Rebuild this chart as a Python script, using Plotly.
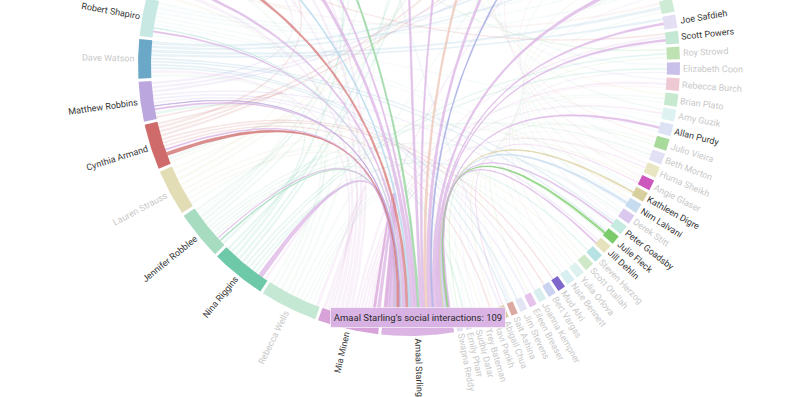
import math
import plotly.graph_objects as go

# ---------------- data ----------------
# nodes, clockwise starting at the focus node (sorted by value, descending)
nodes = [
    "Amaal Starling", "Mia Minen", "Rebecca Wells", "Nina Riggins", "Jennifer Robblee",
    "Lauren Strauss", "Cynthia Armand", "Matthew Robbins", "Dave Watson", "Robert Shapiro",
    "Elizabeth Loder", "Andrew Charles", "Richard Lipton", "Dawn Buse", "Jessica Ailani",
    "Todd Schwedt", "Stephen Silberstein", "Messoud Ashina", "Andrew Hershey", "Juliana VanderPluym",
    "Rashmi Halker", "Deborah Friedman", "Lawrence Newman", "Carrie Dougherty", "Nada Hindiyeh",
    "Jason Rosenberg", "Stewart Tepper", "Alan Rapoport", "Robert Cowan", "Brian Grosberg",
    "Christina Szperka", "Thomas Berk", "Heidi Moawad", "Kathleen Mullin",
    "David Dodick", "Joe Safdieh", "Scott Powers", "Roy Strowd", "Elizabeth Coon",
    "Rebecca Burch", "Brian Plato", "Amy Guzik", "Allan Purdy", "Julio Vieira",
    "Beth Morton", "Huma Sheikh", "Angie Glaser", "Kathleen Digre", "Nim Lalvani",
    "Derek Stitt", "Peter Goadsby", "Julie Fleck", "Jill Dehlin", "Steven Herzog",
    "Scott Otallah", "Yulia Orlova", "Nate Bennett", "Mud Alvi", "Bert Vargas",
    "Joanna Kempner", "Eileen Breaser", "Jim Stevens", "Sait Ashina", "Abigail Chua",
    "Ravi Parikh", "Trey Bateman", "Sudhir Datar", "Emily Pharr", "Swapna Reddy",
]
values = [
    109, 92, 87, 83, 74,
    70, 69, 60, 59, 58,
    58, 56, 54, 52, 50,
    49, 47, 46, 45, 43,
    42, 41, 39, 38, 37,
    35, 33, 32, 30, 28,
    27, 25, 23, 21,
    20, 20, 19, 19, 19,
    19, 19, 18, 18, 18,
    17, 17, 16, 15, 15,
    15, 15, 14, 14, 14,
    14, 13, 13, 12, 12,
    12, 11, 11, 10, 10,
    10, 10, 9, 9, 9,
]
colors = [
    "#dbb4e4", "#d7a3d8", "#c4e8d4", "#6ec9a8", "#a7dcc1",
    "#e3ddb6", "#cf6b6b", "#bba6de", "#6ba8c8", "#c8e8e4",
    "#e8c3c3", "#d77a7a", "#b3d6ee", "#d8b5e8", "#c6e7c6",
    "#8fd39a", "#f0d9b5", "#a9c9e8", "#e6c6dc", "#c2e4df",
    "#d1c9ee", "#e8e0b8", "#b9dfcf", "#ecc5b8", "#c8d8f0",
    "#e0b8d8", "#9fa6e0", "#cfe8b8", "#f0c8c8", "#b8e0e8",
    "#dcc8f0", "#e8dcc0", "#c0e8d0", "#e0d0f0",
    "#cdebd5", "#e5dff4", "#c4e8d4", "#bfe2b3", "#c9c0ea",
    "#eec8d2", "#c6e9d0", "#def2f1", "#dde3f4", "#a8da9b",
    "#e1e0f4", "#e9e7c3", "#cc58bd", "#d8cf9f", "#c8dcef",
    "#dac8ee", "#c5eadf", "#7ccb6b", "#e6e2bd", "#b7e2e4",
    "#cfe9c8", "#ddf1ee", "#d7eff0", "#7e66cc", "#c9d3f0",
    "#d9efef", "#e5c3ea", "#e3e4f4", "#dba9a2", "#d8cda8",
    "#e0d4f0", "#dde3f4", "#e6e6e6", "#e2dcf3", "#e6e0f0",
]

# links: (from, to, interactions)
links = [
    # focus node (sum = 109)
    ("Amaal Starling", "Mia Minen", 5), ("Mia Minen", "Amaal Starling", 4),
    ("Amaal Starling", "Nina Riggins", 7),
    ("Jennifer Robblee", "Amaal Starling", 2), ("Amaal Starling", "Jennifer Robblee", 1),
    ("Cynthia Armand", "Amaal Starling", 5), ("Amaal Starling", "Cynthia Armand", 2),
    ("Amaal Starling", "Matthew Robbins", 2), ("Matthew Robbins", "Amaal Starling", 1),
    ("Amaal Starling", "Robert Shapiro", 2), ("Robert Shapiro", "Amaal Starling", 1),
    ("Amaal Starling", "Joe Safdieh", 3), ("Amaal Starling", "Scott Powers", 3),
    ("Amaal Starling", "Allan Purdy", 3), ("Kathleen Digre", "Amaal Starling", 2),
    ("Nim Lalvani", "Amaal Starling", 3), ("Amaal Starling", "Peter Goadsby", 2),
    ("Julie Fleck", "Amaal Starling", 3), ("Amaal Starling", "Jill Dehlin", 2),
    ("Andrew Charles", "Amaal Starling", 5), ("Todd Schwedt", "Amaal Starling", 4),
    ("Stewart Tepper", "Amaal Starling", 3), ("Amaal Starling", "Elizabeth Loder", 4),
    ("Amaal Starling", "Dawn Buse", 7), ("Amaal Starling", "Jessica Ailani", 4),
    ("Richard Lipton", "Amaal Starling", 3), ("Amaal Starling", "Juliana VanderPluym", 5),
    ("Amaal Starling", "Deborah Friedman", 4), ("Carrie Dougherty", "Amaal Starling", 5),
    ("Amaal Starling", "Jason Rosenberg", 6), ("Amaal Starling", "Heidi Moawad", 6),
    # everyone else
    ("Mia Minen", "Rebecca Wells", 4), ("Mia Minen", "Nina Riggins", 3), ("Mia Minen", "Dave Watson", 3),
    ("Mia Minen", "Elizabeth Loder", 5), ("Mia Minen", "Dawn Buse", 6), ("Mia Minen", "Richard Lipton", 4),
    ("Mia Minen", "Rebecca Burch", 3), ("Mia Minen", "Joanna Kempner", 2), ("Mia Minen", "Huma Sheikh", 2),
    ("Mia Minen", "Jessica Ailani", 4), ("Mia Minen", "Scott Powers", 2), ("Mia Minen", "Amy Guzik", 2),
    ("Mia Minen", "Alan Rapoport", 3),
    ("Rebecca Wells", "Lauren Strauss", 3), ("Rebecca Wells", "Dave Watson", 4),
    ("Rebecca Wells", "Andrew Charles", 5), ("Rebecca Wells", "Todd Schwedt", 4),
    ("Rebecca Wells", "Brian Plato", 2), ("Rebecca Wells", "Julio Vieira", 2),
    ("Rebecca Wells", "Swapna Reddy", 2), ("Rebecca Wells", "Yulia Orlova", 2),
    ("Rebecca Wells", "Juliana VanderPluym", 4), ("Rebecca Wells", "Stewart Tepper", 3),
    ("Nina Riggins", "Jennifer Robblee", 3), ("Nina Riggins", "Matthew Robbins", 3),
    ("Nina Riggins", "Stephen Silberstein", 4), ("Nina Riggins", "Rashmi Halker", 3),
    ("Nina Riggins", "Roy Strowd", 2), ("Nina Riggins", "Steven Herzog", 2),
    ("Nina Riggins", "Emily Pharr", 2), ("Nina Riggins", "Deborah Friedman", 3),
    ("Nina Riggins", "Elizabeth Coon", 2),
    ("Jennifer Robblee", "Cynthia Armand", 3), ("Jennifer Robblee", "Messoud Ashina", 4),
    ("Jennifer Robblee", "Andrew Hershey", 3), ("Jennifer Robblee", "Beth Morton", 2),
    ("Jennifer Robblee", "Nate Bennett", 2), ("Jennifer Robblee", "Sudhir Datar", 2),
    ("Jennifer Robblee", "Lawrence Newman", 3), ("Jennifer Robblee", "Derek Stitt", 2),
    ("Lauren Strauss", "Cynthia Armand", 2), ("Lauren Strauss", "Carrie Dougherty", 4),
    ("Lauren Strauss", "Nada Hindiyeh", 3), ("Lauren Strauss", "Angie Glaser", 2),
    ("Lauren Strauss", "Trey Bateman", 2), ("Lauren Strauss", "Scott Otallah", 2),
    ("Lauren Strauss", "Elizabeth Loder", 3),
    ("Cynthia Armand", "Matthew Robbins", 2), ("Cynthia Armand", "Jason Rosenberg", 3),
    ("Cynthia Armand", "Stewart Tepper", 3), ("Cynthia Armand", "Mud Alvi", 2),
    ("Cynthia Armand", "Ravi Parikh", 2), ("Cynthia Armand", "Dawn Buse", 3),
    ("Cynthia Armand", "Bert Vargas", 2),
    ("Matthew Robbins", "Alan Rapoport", 3), ("Matthew Robbins", "Robert Cowan", 3),
    ("Matthew Robbins", "Eileen Breaser", 2), ("Matthew Robbins", "Abigail Chua", 2),
    ("Matthew Robbins", "Jill Dehlin", 2), ("Matthew Robbins", "Richard Lipton", 3),
    ("Dave Watson", "Brian Grosberg", 4), ("Dave Watson", "Christina Szperka", 3),
    ("Dave Watson", "David Dodick", 4), ("Dave Watson", "Joe Safdieh", 3),
    ("Dave Watson", "Jim Stevens", 2), ("Dave Watson", "Sait Ashina", 2),
    ("Dave Watson", "Peter Goadsby", 2), ("Dave Watson", "Julie Fleck", 2),
    ("Robert Shapiro", "Thomas Berk", 3), ("Robert Shapiro", "Heidi Moawad", 3),
    ("Robert Shapiro", "Kathleen Mullin", 3), ("Robert Shapiro", "Kathleen Digre", 2),
    ("Robert Shapiro", "Nim Lalvani", 2), ("Robert Shapiro", "Allan Purdy", 2),
    ("Robert Shapiro", "Jennifer Robblee", 2),
    ("Elizabeth Loder", "Richard Lipton", 4), ("Elizabeth Loder", "David Dodick", 3),
    ("Andrew Charles", "Todd Schwedt", 3), ("Andrew Charles", "Scott Powers", 2),
    ("Richard Lipton", "Dawn Buse", 5), ("Dawn Buse", "Jessica Ailani", 3),
    ("Jessica Ailani", "Stewart Tepper", 3), ("Todd Schwedt", "Roy Strowd", 2),
    ("Stephen Silberstein", "Alan Rapoport", 4), ("Messoud Ashina", "Sait Ashina", 3),
    ("Andrew Hershey", "Christina Szperka", 3), ("Juliana VanderPluym", "Elizabeth Coon", 2),
    ("Rashmi Halker", "Rebecca Burch", 2), ("Deborah Friedman", "Brian Plato", 2),
    ("Lawrence Newman", "Amy Guzik", 2), ("Carrie Dougherty", "Julio Vieira", 2),
    ("Nada Hindiyeh", "Beth Morton", 2), ("Jason Rosenberg", "Huma Sheikh", 2),
    ("Robert Cowan", "Angie Glaser", 2), ("Brian Grosberg", "Kathleen Digre", 2),
    ("Thomas Berk", "Nim Lalvani", 2), ("Heidi Moawad", "Derek Stitt", 2),
    ("Kathleen Mullin", "Peter Goadsby", 2), ("David Dodick", "Julie Fleck", 2),
    ("Joe Safdieh", "Jill Dehlin", 1), ("Scott Powers", "Steven Herzog", 1),
    ("Roy Strowd", "Scott Otallah", 1), ("Elizabeth Coon", "Yulia Orlova", 1),
    ("Rebecca Burch", "Nate Bennett", 1), ("Brian Plato", "Mud Alvi", 1),
    ("Amy Guzik", "Bert Vargas", 1), ("Allan Purdy", "Joanna Kempner", 1),
    ("Julio Vieira", "Eileen Breaser", 1), ("Beth Morton", "Jim Stevens", 1),
    ("Huma Sheikh", "Sait Ashina", 1), ("Angie Glaser", "Abigail Chua", 1),
    ("Kathleen Digre", "Ravi Parikh", 1), ("Nim Lalvani", "Trey Bateman", 1),
    ("Derek Stitt", "Sudhir Datar", 1), ("Peter Goadsby", "Emily Pharr", 1),
    ("Julie Fleck", "Swapna Reddy", 1),
]

FOCUS = "Amaal Starling"
TOOLTIP_TEMPLATE = "{name}'s social interactions: {value}"

# ---------------- geometry settings ----------------
START_ANGLE = 80.4      # screen degrees, clockwise from +x
GAP = 0.65
R_OUT, R_IN = 271, 258
R_LABEL = 274
FONT = "Roboto"
LABEL_SIZE = 9
DARK, LIGHT = "#363636", "#c9c9c9"
HI_OPACITY, LO_OPACITY = 0.75, 0.13

N = len(nodes)
scale = (360 - N * GAP) / sum(values)
seg = {}
a = START_ANGLE
for name, v in zip(nodes, values):
    seg[name] = (a, a + v * scale)
    a += v * scale + GAP
color_of = dict(zip(nodes, colors))
value_of = dict(zip(nodes, values))


def pt(ang, r):
    t = math.radians(ang)
    return r * math.cos(t), r * math.sin(t)


def arc(a0, a1, r, step=0.4):
    n = max(2, int(abs(a1 - a0) / step) + 2)
    return [pt(a0 + (a1 - a0) * i / (n - 1), r) for i in range(n)]


def bez(p0, p2, n=50):
    out = []
    for i in range(n):
        t = i / (n - 1)
        out.append(((1 - t) ** 2 * p0[0] + t * t * p2[0], (1 - t) ** 2 * p0[1] + t * t * p2[1]))
    return out


def rgba(hexc, op):
    h = hexc.lstrip("#")
    return "rgba(%d,%d,%d,%.3f)" % (int(h[0:2], 16), int(h[2:4], 16), int(h[4:6], 16), op)


# allocate link ends inside each node segment
ends = {n: [] for n in nodes}
for i, (s, t, v) in enumerate(links):
    ends[s].append((i, t, v))
    ends[t].append((i, s, v))
alloc = {}
for name in nodes:
    a0, a1 = seg[name]
    mid = (a0 + a1) / 2
    items = sorted(ends[name], key=lambda it: -(((seg[it[1]][0] + seg[it[1]][1]) / 2 - mid) % 360))
    if not items:
        continue
    total = sum(v for _, _, v in items) * scale
    length = a1 - a0
    if total >= length:
        k, spacing = length / total, 0.0
    else:
        k, spacing = 1.0, (length - total) / len(items)
    cur = a0 + spacing / 2
    for i, other, v in items:
        w = v * scale * k
        alloc[(i, name)] = (cur, cur + w)
        cur += w + spacing

fig = go.Figure()

linked = {FOCUS}
order = []
for i, (s, t, v) in enumerate(links):
    hi = FOCUS in (s, t)
    if hi:
        linked.update([s, t])
    order.append((hi, i))
order.sort()

for hi, i in order:
    s, t, v = links[i]
    s0, s1 = alloc[(i, s)]
    t0, t1 = alloc[(i, t)]
    pts = (arc(s0, s1, R_IN) + bez(pt(s1, R_IN), pt(t0, R_IN)) +
           arc(t0, t1, R_IN) + bez(pt(t1, R_IN), pt(s0, R_IN)))
    op = HI_OPACITY if hi else LO_OPACITY
    fig.add_trace(go.Scatter(
        x=[p[0] for p in pts], y=[p[1] for p in pts], mode="lines",
        fill="toself", fillcolor=rgba(color_of[s], op),
        line=dict(width=0.6, color=rgba(color_of[s], op)),
        hoverinfo="skip", showlegend=False))

# node segments
for name in nodes:
    a0, a1 = seg[name]
    pts = arc(a0, a1, R_OUT) + arc(a1, a0, R_IN)
    fig.add_trace(go.Scatter(
        x=[p[0] for p in pts], y=[p[1] for p in pts], mode="lines",
        fill="toself", fillcolor=color_of[name], line=dict(width=0),
        hoverinfo="skip", showlegend=False))

# labels
EM = {"i": .24, "l": .24, "j": .24, "t": .33, "f": .35, "r": .34, " ": .25, "'": .17,
      "m": .88, "w": .75, "M": .87, "W": .88, "I": .27}


def text_w(s, size):
    w = 0
    for ch in s:
        if ch in EM:
            w += EM[ch]
        elif ch.isupper():
            w += .64
        else:
            w += .54
    return w * size


annotations = []
for name in nodes:
    a0, a1 = seg[name]
    m = ((a0 + a1) / 2 + 180) % 360 - 180
    if abs(m) <= 90:
        ta = m
    else:
        ta = m - 180 if m > 0 else m + 180
    w = text_w(name, LABEL_SIZE)
    x, y = pt(m, R_LABEL + w / 2)
    annotations.append(dict(
        x=x, y=y, xref="x", yref="y", text=name, showarrow=False, textangle=ta,
        xanchor="center", yanchor="middle",
        font=dict(family=FONT, size=LABEL_SIZE, color=DARK if name in linked else LIGHT)))

# tooltip for the focus node
fa0, fa1 = seg[FOCUS]
fm = (fa0 + fa1) / 2
tip_x, tip_y = pt(fm, R_OUT - 3)
box_bottom = tip_y - 6
box_h, box_w = 19, 174
TIP_BG = "rgba(216,178,227,0.97)"
annotations.append(dict(
    x=tip_x, y=box_bottom - box_h / 2, xref="x", yref="y",
    text=TOOLTIP_TEMPLATE.format(name=FOCUS, value=value_of[FOCUS]),
    showarrow=False, width=box_w, height=box_h, align="center", valign="middle",
    bgcolor=TIP_BG, bordercolor="rgba(255,255,255,0.6)", borderwidth=1, borderpad=0,
    font=dict(family=FONT, size=9.5, color="#2a2a2a")))
fig.add_trace(go.Scatter(
    x=[tip_x - 6, tip_x + 6, tip_x, tip_x - 6],
    y=[box_bottom - 0.5, box_bottom - 0.5, tip_y, box_bottom - 0.5],
    mode="lines", fill="toself", fillcolor=TIP_BG, line=dict(width=0),
    hoverinfo="skip", showlegend=False))

fig.update_layout(
    width=800, height=397, margin=dict(l=0, r=0, t=0, b=0),
    paper_bgcolor="white", plot_bgcolor="white",
    xaxis=dict(range=[-409, 391], visible=False, fixedrange=True),
    yaxis=dict(range=[332, -65], visible=False, fixedrange=True),
    annotations=annotations, showlegend=False)

fig.write_html("out.html")
